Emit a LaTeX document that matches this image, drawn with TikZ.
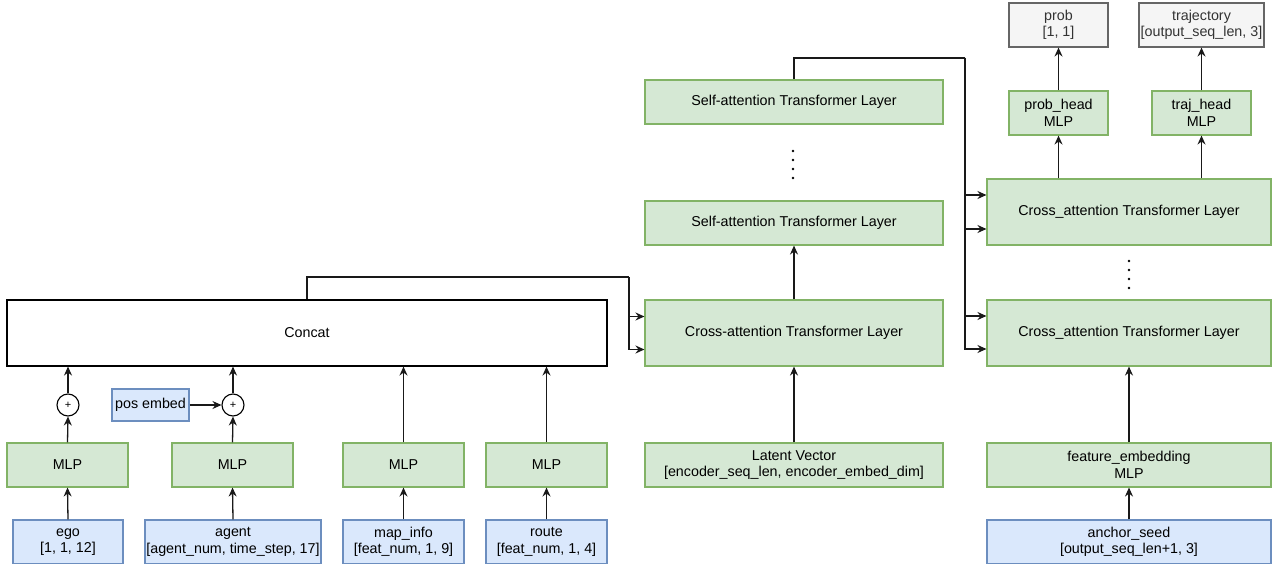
\documentclass[tikz,border=0pt]{standalone}
\usepackage{fontspec}
\setmainfont{Liberation Sans}
\usetikzlibrary{arrows.meta}
\definecolor{gfill}{HTML}{D5E8D4}
\definecolor{gdraw}{HTML}{82B366}
\definecolor{bfill}{HTML}{DAE8FC}
\definecolor{bdraw}{HTML}{6C8EBF}
\definecolor{wfill}{HTML}{F5F5F5}
\definecolor{wdraw}{HTML}{666666}
\definecolor{wtext}{HTML}{333333}
\begin{document}
\begin{tikzpicture}[x=1pt,y=-1pt,
  every node/.style={font=\fontsize{14.3}{16.5}\selectfont, align=center, inner sep=0pt, line width=1.1pt},
  gbox/.style={draw=gdraw, fill=gfill},
  bbox/.style={draw=bdraw, fill=bfill},
  obox/.style={draw=wdraw, fill=wfill, text=wtext},
  sz/.style 2 args={minimum width=#1pt, minimum height=#2pt},
  plusc/.style={circle, draw=black, fill=white, minimum size=22pt, font=\fontsize{11}{12}\selectfont},
  arr/.style={-{Stealth[length=9pt,width=8pt,inset=3pt]}, line width=1.3pt, draw={black!90}},
  ln/.style={line width=1.3pt, draw={black!90}},
  dot/.style={fill=black, draw=none, circle, minimum size=2.6pt}
]
\useasboundingbox (0,0) rectangle (1272,564);

% left block
\node[draw=black, fill=white, sz={600}{66}] (concat) at (307,333) {Concat};
\node[gbox, sz={121}{44}] (mlp1) at (67.5,465) {MLP};
\node[gbox, sz={121}{44}] (mlp2) at (232.5,465) {MLP};
\node[gbox, sz={121}{44}] (mlp3) at (403.5,465) {MLP};
\node[gbox, sz={121}{44}] (mlp4) at (546.5,465) {MLP};
\node[bbox, sz={110}{44}] (ego) at (68,542) {ego\\ {[1, 1, 12]}};
\node[bbox, sz={176}{44}] (agent) at (233,542) {agent\\ {[agent\_num, time\_step, 17]}};
\node[bbox, sz={121}{44}] (mapinfo) at (403.5,542) {map\_info\\ {[feat\_num, 1, 9]}};
\node[bbox, sz={121}{44}] (route) at (546.5,542) {route\\ {[feat\_num, 1, 4]}};
\node[plusc] (plus1) at (68,405) {+};
\node[plusc] (plus2) at (233,405) {+};
\node[bbox, sz={77}{32}] (pos) at (150.5,405) {pos embed};

% middle block
\node[gbox, sz={298}{66}] (cross1) at (794,333) {Cross-attention Transformer Layer};
\node[gbox, sz={298}{44}] (sa1) at (794,223) {Self-attention Transformer Layer};
\node[gbox, sz={298}{44}] (sa2) at (794,102) {Self-attention Transformer Layer};
\node[gbox, sz={298}{44}] (latent) at (794,465) {Latent Vector\\ {[encoder\_seq\_len, encoder\_embed\_dim]}};
\foreach \yy in {151,160,169,178} \node[dot] at (793,\yy) {};

% right block
\node[gbox, sz={284}{66}] (cr2) at (1129,212) {Cross\_attention Transformer Layer};
\node[gbox, sz={284}{66}] (cr1) at (1129,333) {Cross\_attention Transformer Layer};
\node[gbox, sz={284}{44}] (fe) at (1129,465) {feature\_embedding\\MLP};
\node[bbox, sz={284}{44}] (anchor) at (1129,542) {anchor\_seed\\ {[output\_seq\_len+1, 3]}};
\node[gbox, sz={99}{44}] (probhead) at (1058.5,113) {prob\_head\\MLP};
\node[gbox, sz={99}{44}] (trajhead) at (1201.5,113) {traj\_head\\MLP};
\node[obox, sz={99}{44}] (prob) at (1058.5,25) {prob\\ {[1, 1]}};
\node[obox, sz={125}{44}] (traj) at (1201.5,25) {trajectory\\ {[output\_seq\_len, 3]}};
\foreach \yy in {261,270,279,288} \node[dot] at (1129,\yy) {};

% connectors left
\draw[arr] (ego.north) -- (mlp1.south);
\draw[arr] (mlp1.north) -- (plus1.south);
\draw[arr] (plus1.north) -- (plus1.north |- concat.south);
\draw[arr] (agent.north) -- (mlp2.south);
\draw[arr] (mlp2.north) -- (plus2.south);
\draw[arr] (plus2.north) -- (plus2.north |- concat.south);
\draw[arr] (pos.east) -- (plus2.west);
\draw[arr] (mapinfo.north) -- (mlp3.south);
\draw[arr] (mlp3.north) -- (mlp3.north |- concat.south);
\draw[arr] (route.north) -- (mlp4.south);
\draw[arr] (mlp4.north) -- (mlp4.north |- concat.south);

% concat to cross1
\coordinate (j1) at (629,277);
\draw[ln] (concat.north) |- (j1);
\draw[arr] (j1) |- ([yshift=16.5pt]cross1.west);
\draw[arr] (j1) |- ([yshift=-16.5pt]cross1.west);

% middle
\draw[arr] (latent.north) -- (cross1.south);
\draw[arr] (cross1.north) -- (sa1.south);

% sa2 to decoder
\coordinate (j2) at (965,58);
\draw[ln] (sa2.north) |- (j2);
\draw[arr] (j2) |- ([yshift=17pt]cr2.west);
\draw[arr] (j2) |- ([yshift=-17pt]cr2.west);
\draw[arr] (j2) |- ([yshift=17pt]cr1.west);
\draw[arr] (j2) |- ([yshift=-16pt]cr1.west);

% right
\draw[arr] (anchor.north) -- (fe.south);
\draw[arr] (fe.north) -- (cr1.south);
\draw[arr] (probhead.south |- cr2.north) -- (probhead.south);
\draw[arr] (trajhead.south |- cr2.north) -- (trajhead.south);
\draw[arr] (probhead.north) -- (prob.south);
\draw[arr] (trajhead.north) -- (traj.south);
\end{tikzpicture}
\end{document}
